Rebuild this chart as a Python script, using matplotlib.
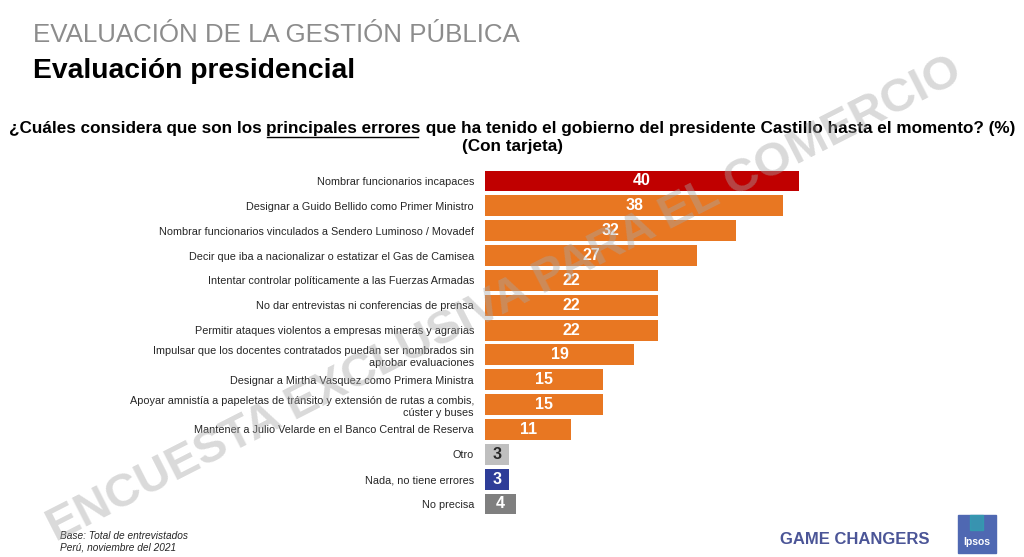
import matplotlib
matplotlib.use("Agg")
import matplotlib.pyplot as plt
from matplotlib.patches import Rectangle
from matplotlib.lines import Line2D

plt.rcParams["font.family"] = ["Liberation Sans", "DejaVu Sans"]

# data
labels = [
    "Nombrar funcionarios incapaces",
    "Designar a Guido Bellido como Primer Ministro",
    "Nombrar funcionarios vinculados a Sendero Luminoso / Movadef",
    "Decir que iba a nacionalizar o estatizar el Gas de Camisea",
    "Intentar controlar políticamente a las Fuerzas Armadas",
    "No dar entrevistas ni conferencias de prensa",
    "Permitir ataques violentos a empresas mineras y agrarias",
    "Impulsar que los docentes contratados puedan ser nombrados sin\naprobar evaluaciones",
    "Designar a Mirtha Vasquez como Primera Ministra",
    "Apoyar amnistía a papeletas de tránsito y extensión de rutas a combis,\ncúster y buses",
    "Mantener a Julio Velarde en el Banco Central de Reserva",
    "Otro",
    "Nada, no tiene errores",
    "No precisa",
]
values = [40, 38, 32, 27, 22, 22, 22, 19, 15, 15, 11, 3, 3, 4]
bar_colors = ["#C00000"] + ["#E87722"] * 10 + ["#BFBFBF", "#2E3D98", "#7F7F7F"]
text_colors = ["white"] * 11 + ["#262626", "white", "white"]

W, H = 1024, 557
fig = plt.figure(figsize=(W / 100, H / 100), dpi=100)

# axes placed in pixel coords: x 0..40 -> 485..799, rows centred 181..504
row_top, row_bot = 181, 504
step = (row_bot - row_top) / (len(values) - 1)
ax = fig.add_axes([485 / W, 1 - (row_bot + step / 2) / H, 314 / W, (row_bot - row_top + step) / H])
ypos = list(range(len(values)))
ax.barh(ypos, values, height=0.84, color=bar_colors)
ax.set_xlim(0, 40)
ax.set_ylim(len(values) - 0.5, -0.5)
for y, v, tc in zip(ypos, values, text_colors):
    ax.text(v / 2, y, str(v), ha="center", va="center", color=tc,
            fontsize=11.5, fontweight="bold")
ax.set_yticks(ypos)
ax.set_yticklabels(labels, fontsize=7.8, color="#262626", ha="right", linespacing=1.3)
ax.tick_params(axis="y", length=0, pad=8)
ax.set_xticks([])
for s in ax.spines.values():
    s.set_visible(False)

# headers
fig.text(33 / W, 1 - 35 / H, "EVALUACIÓN DE LA GESTIÓN PÚBLICA", fontsize=18.6,
         color="#8C8C8C", va="center", ha="left")
fig.text(33 / W, 1 - 71 / H, "Evaluación presidencial", fontsize=20.3, fontweight="bold",
         color="black", va="center", ha="left")

# question line with underlined part
q1 = "¿Cuáles considera que son los "
q2 = "principales errores"
q3 = " que ha tenido el gobierno del presidente Castillo hasta el momento? (%)"
qkw = dict(fontsize=12.3, fontweight="bold", color="black", va="center")
fig.canvas.draw()
r = fig.canvas.get_renderer()
parts = [fig.text(0, 0, t, ha="left", **qkw) for t in (q1, q2, q3)]
widths = [p.get_window_extent(r).width for p in parts]
for p in parts:
    p.remove()
total = sum(widths)
x0 = 512 - total / 2
yq = H - 128
xs = [x0, x0 + widths[0], x0 + widths[0] + widths[1]]
for t, x in zip((q1, q2, q3), xs):
    fig.text(x / W, yq / H, t, ha="left", **qkw)
fig.add_artist(Line2D([(xs[1] + 1) / W, (xs[1] + widths[1] - 3) / W], [(yq - 9) / H] * 2,
                      color="black", lw=1.0))
fig.text(512 / W, 1 - 147 / H, "(Con tarjeta)", ha="center", **qkw)

# footer
fig.text(60 / W, 1 - 536 / H, "Base: Total de entrevistados", fontsize=7.3,
         style="italic", color="#262626", va="center")
fig.text(60 / W, 1 - 548 / H, "Perú, noviembre del 2021", fontsize=7.3,
         style="italic", color="#262626", va="center")
fig.text(855 / W, 1 - 540 / H, "GAME CHANGERS", fontsize=12, fontweight="bold",
         color="#4B5597", ha="center", va="center")

# ipsos logo
fig.add_artist(Rectangle((958 / W, 1 - 553 / H), 38 / W, 38 / H, color="#4F68B2",
                         transform=fig.transFigure))
fig.add_artist(Rectangle((970 / W, 1 - 530 / H), 13 / W, 15 / H, color="#2FA6B0",
                         alpha=0.7, transform=fig.transFigure))
fig.text(977 / W, 1 - 542 / H, "Ipsos", fontsize=7.5, fontweight="bold", color="white",
         ha="center", va="center")

# watermark
fig.text(505 / W, 1 - 300 / H, "ENCUESTA EXCLUSIVA PARA EL COMERCIO", fontsize=34,
         fontweight="bold", color="#A6A6A6", alpha=0.42, rotation=27,
         ha="center", va="center", rotation_mode="anchor", zorder=10)

fig.savefig("out.png", dpi=100)
